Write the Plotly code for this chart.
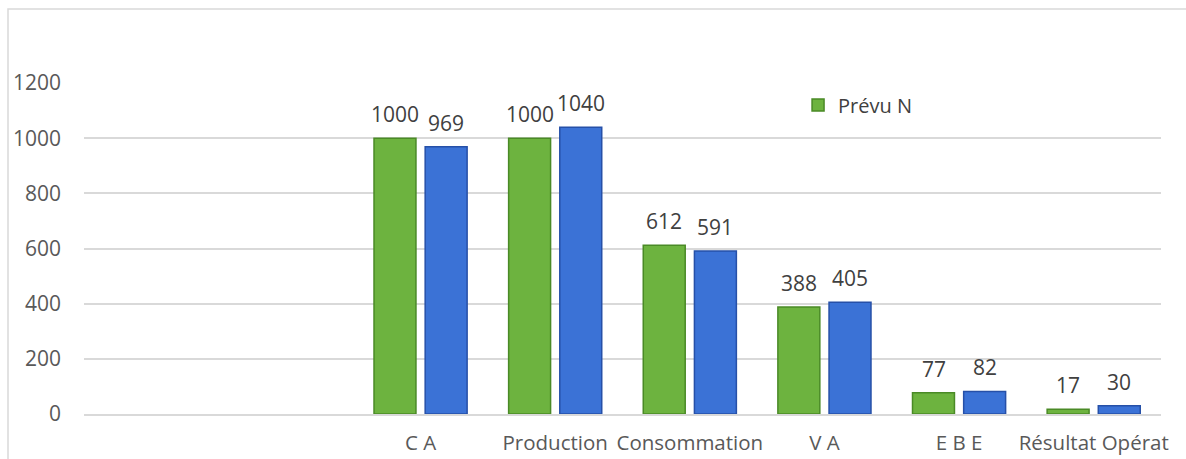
import plotly.graph_objects as go

categories = [" ", "  ", "C A", "Production", "Consommation", "V A", "E B E", "Résultat Opérat"]
prevu = [None, None, 1000, 1000, 612, 388, 77, 17]
realise = [None, None, 969, 1040, 591, 405, 82, 30]
y_ticks = [0, 200, 400, 600, 800, 1000, 1200]

FONT = "Open Sans"
FS = 21

fig = go.Figure()
fig.add_trace(go.Bar(
    x=categories, y=prevu, name="Prévu N",
    marker=dict(color="#6DB33F", line=dict(color="#4A8A26", width=1.5)),
))
fig.add_trace(go.Bar(
    x=categories, y=realise, name="Réalisé N", showlegend=False,
    marker=dict(color="#3B72D6", line=dict(color="#2650A8", width=1.5)),
))

# value labels above bars
for vals, shift in ((prevu, -25.5), (realise, 25.5)):
    for c, v in zip(categories, vals):
        if v is None:
            continue
        fig.add_annotation(x=c, y=v, text=str(v), showarrow=False,
                           xshift=shift, yshift=8, yanchor="bottom",
                           font=dict(family=FONT, size=FS, color="#404040"))

fig.update_layout(
    width=1186, height=459,
    margin=dict(l=84, r=25, t=83, b=45),
    paper_bgcolor="white", plot_bgcolor="white",
    barmode="group", bargap=0.24, bargroupgap=0.18,
    font=dict(family=FONT, size=FS, color="#595959"),
    showlegend=True,
    legend=dict(x=0.663, y=0.9335, xanchor="left", yanchor="middle",
                font=dict(family=FONT, size=20, color="#404040"),
                bgcolor="rgba(0,0,0,0)", itemwidth=30),
)
fig.update_xaxes(
    type="category", categoryorder="array", categoryarray=categories,
    showgrid=False, showline=True, linecolor="#D9D9D9", linewidth=1.5,
    ticks="", tickfont=dict(family=FONT, size=20.5, color="#595959"),
    tickangle=0, ticklabelstandoff=10, automargin=False,
)
fig.update_yaxes(
    range=[0, 1200], tickvals=y_ticks,
    showgrid=True, gridcolor="#D9D9D9", gridwidth=1.5,
    zeroline=False, showline=False, ticks="",
    tickfont=dict(family=FONT, size=FS, color="#595959"),
    ticklabelstandoff=22, automargin=False,
)
fig.add_shape(type="rect", xref="paper", yref="paper",
              x0=(8 - 84) / 1077, x1=1.2, y0=-0.5, y1=(414 - 9) / 331,
              line=dict(color="#D9D9D9", width=1.5), fillcolor="rgba(0,0,0,0)", layer="below")

fig.write_html("out.html")
